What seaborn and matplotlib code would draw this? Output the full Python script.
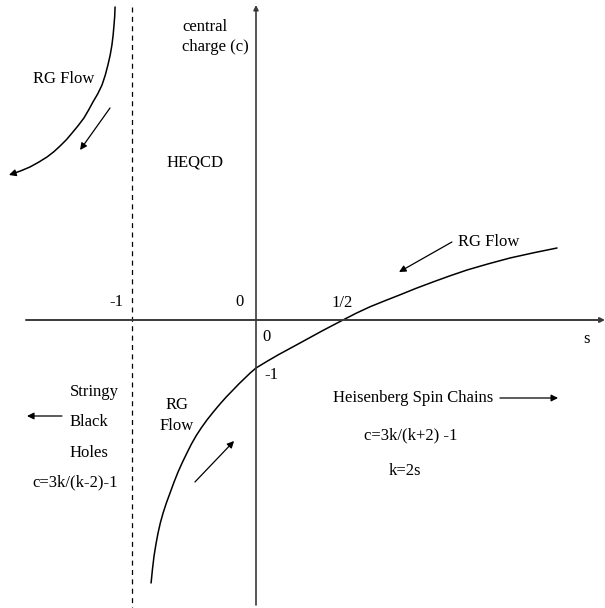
import matplotlib
matplotlib.use("Agg")
import matplotlib.pyplot as plt
import seaborn as sns
import pandas as pd

# flow curves in (s, c) units
right_s = [0.0, 0.063, 0.126, 0.19, 0.253, 0.316, 0.379, 0.44, 0.5, 0.575, 0.655,
           0.74, 0.828, 0.92, 1.017, 1.113, 1.213, 1.335, 1.46, 1.595, 1.73]
right_c = [-1.0, -0.862, -0.729, -0.603, -0.479, -0.354, -0.229, -0.113, 0.0,
           0.14, 0.275, 0.4, 0.525, 0.66, 0.792, 0.918, 1.042, 1.17, 1.292,
           1.4, 1.5]

lower_s = [0.0, -0.032, -0.063, -0.098, -0.132, -0.17, -0.207, -0.245, -0.282,
           -0.315, -0.345, -0.372, -0.397, -0.423, -0.448, -0.472, -0.494,
           -0.515, -0.534, -0.55, -0.563, -0.575, -0.586, -0.595, -0.603]
lower_c = [-1.0, -1.1, -1.208, -1.33, -1.458, -1.6, -1.75, -1.915, -2.083,
           -2.25, -2.417, -2.59, -2.771, -2.965, -3.167, -3.385, -3.604,
           -3.81, -4.021, -4.23, -4.438, -4.67, -4.917, -5.19, -5.479]

upper_s = [-0.81, -0.812, -0.816, -0.821, -0.828, -0.838, -0.851, -0.866, -0.885,
           -0.909, -0.937, -0.962, -0.989, -1.022, -1.057, -1.09, -1.126,
           -1.162, -1.201, -1.248, -1.299, -1.35, -1.402]
upper_c = [6.521, 6.333, 6.146, 5.94, 5.729, 5.52, 5.313, 5.105, 4.896,
           4.715, 4.542, 4.375, 4.208, 4.05, 3.896, 3.755, 3.625,
           3.505, 3.396, 3.29, 3.188, 3.11, 3.042]

pole_s = -0.713

sns.set_style("white")
plt.rcParams["font.family"] = ["Liberation Serif", "DejaVu Serif"]

fig = plt.figure(figsize=(6.05, 6.08), dpi=100)
ax = fig.add_axes([0, 0, 1, 1])
ax.set_xlim(-256 / 174, 349 / 174)
ax.set_ylim(-288 / 48, 320 / 48)
ax.axis("off")

axis_col = "#3a3a3a"
# axes with arrowheads
ax.annotate("", xy=(2.006, 0), xytext=(-1.322, 0),
            arrowprops=dict(arrowstyle="-|>", color=axis_col, lw=1.4,
                            mutation_scale=7, shrinkA=0, shrinkB=0))
ax.annotate("", xy=(0, 6.5625), xytext=(0, -5.9375),
            arrowprops=dict(arrowstyle="-|>", color=axis_col, lw=1.2,
                            mutation_scale=7, shrinkA=0, shrinkB=0))
ax.plot([pole_s, pole_s], [6.52, -6.0], color="black", lw=0.9, ls=(0, (4, 3.5)))

df_r = pd.DataFrame({"s": right_s, "c": right_c})
df_l = pd.DataFrame({"s": lower_s, "c": lower_c})
df_u = pd.DataFrame({"s": upper_s, "c": upper_c})
for d in (df_r, df_l, df_u):
    sns.lineplot(data=d, x="s", y="c", sort=False, color="black", lw=1.1, ax=ax)

# arrowhead at end of upper-left curve
ax.annotate("", xy=(-1.42, 3.021), xytext=(upper_s[-1], upper_c[-1]),
            arrowprops=dict(arrowstyle="-|>", color="black", lw=1.0,
                            mutation_scale=10, shrinkA=0, shrinkB=0))

arrows = [
    ((-0.839, 4.417), (-1.011, 3.542)),   # top-left RG flow
    ((1.126, 1.625), (0.822, 1.0)),       # right RG flow
    ((-1.115, -2.0), (-1.316, -2.0)),     # stringy black holes
    ((-0.351, -3.375), (-0.126, -2.521)), # lower RG flow
    ((1.402, -1.625), (1.736, -1.625)),   # spin chains
]
for start, end in arrows:
    ax.annotate("", xy=end, xytext=start,
                arrowprops=dict(arrowstyle="-|>", color="black", lw=0.9,
                                mutation_scale=10, shrinkA=0, shrinkB=0))

fs = 12
txt = dict(fontsize=fs, color="black", va="center")
ax.text(-0.425, 5.896, "central\ncharge (c)", ha="left", linespacing=1.4, **txt)
ax.text(-1.103, 5.021, "RG Flow", ha="center", **txt)
ax.text(-0.351, 3.271, "HEQCD", ha="center", **txt)
ax.text(-0.805, 0.375, "-1", ha="center", **txt)
ax.text(-0.092, 0.375, "0", ha="center", **txt)
ax.text(0.494, 0.354, "1/2", ha="center", **txt)
ax.text(0.063, -0.354, "0", ha="center", **txt)
ax.text(0.086, -1.146, "-1", ha="center", **txt)
ax.text(1.902, -0.396, "s", ha="center", **txt)
ax.text(1.339, 1.625, "RG Flow", ha="center", **txt)
ax.text(-1.069, -1.5, "Stringy", ha="left", **txt)
ax.text(-1.069, -2.125, "Black", ha="left", **txt)
ax.text(-1.069, -2.771, "Holes", ha="left", **txt)
ax.text(-1.04, -3.375, "c=3k/(k-2)-1", ha="center", **txt)
ax.text(-0.454, -1.99, "RG\nFlow", ha="center", linespacing=1.35, **txt)
ax.text(0.902, -1.625, "Heisenberg Spin Chains", ha="center", **txt)
ax.text(0.891, -2.396, "c=3k/(k+2) -1", ha="center", **txt)
ax.text(0.856, -3.146, "k=2s", ha="center", **txt)

fig.savefig("out.png", dpi=100, facecolor="white")
